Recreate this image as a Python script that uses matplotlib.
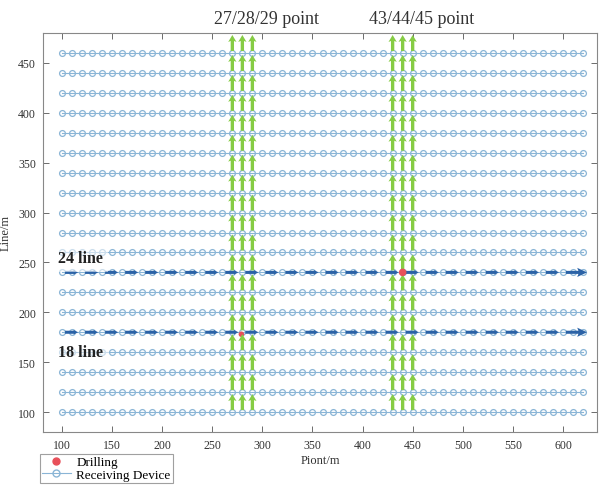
import numpy as np
import matplotlib
matplotlib.use("Agg")
import matplotlib.pyplot as plt
from matplotlib.lines import Line2D

plt.rcParams['font.family'] = ['Liberation Serif', 'DejaVu Serif']

# ---- data ----
points = list(range(100, 621, 10))          # receiving points along each line (m)
lines = list(range(100, 461, 20))           # survey lines (m)
green_x_group1 = [270, 280, 290]            # 27/28/29 point
green_x_group2 = [430, 440, 450]            # 43/44/45 point
blue_lines = [240, 180]                     # 24 line, 18 line
blue_labels = ["24 line", "18 line"]
drill_x = [440, 279]
drill_y = [240, 178]
xticks = [100, 150, 200, 250, 300, 350, 400, 450, 500, 550, 600]
yticks = [100, 150, 200, 250, 300, 350, 400, 450]
top_labels = ["27/28/29 point", "43/44/45 point"]

light_blue = '#8ab5d6'
dark_blue = '#2b62a6'
green = '#86cc44'
red = '#e8505a'

fig = plt.figure(figsize=(6.01, 4.89), dpi=100)
ax = fig.add_axes([43/601, 1-433/489, (597-43)/601, (433-34)/489])

# receiving devices
for ly in lines:
    ax.plot(points, [ly]*len(points), '-', color=light_blue, lw=0.8,
            marker='o', ms=4.2, mfc='none', mec=light_blue, mew=0.9, zorder=2)

# drilling points
ax.scatter(drill_x[:1], drill_y[:1], s=30, color=red, zorder=6, edgecolors='none')
ax.scatter(drill_x[1:], drill_y[1:], s=16, color=red, zorder=3, edgecolors='none')

# green upward arrows
gx = []
gy = []
for x in green_x_group1 + green_x_group2:
    for ly in lines:
        gx.append(x)
        gy.append(ly + 2)
gx = np.array(gx); gy = np.array(gy)
ax.quiver(gx, gy, np.zeros_like(gx), np.full(gy.shape, 16.0),
          angles='xy', scale_units='xy', scale=1, color=green,
          width=0.006, headwidth=2.5, headlength=2.1, headaxislength=1.8,
          zorder=4)

# blue rightward arrows along 24 and 18 lines
bx_start = np.array(points[:-1:2]) + 3
for ly in blue_lines:
    n = len(bx_start)
    ax.quiver(bx_start[:-1], np.full(n-1, ly), np.full(n-1, 13.0), np.zeros(n-1),
              angles='xy', scale_units='xy', scale=1, color=dark_blue,
              width=0.0055, headwidth=1.6, headlength=1.5, headaxislength=1.4,
              zorder=5)
    ax.quiver([bx_start[-1]], [ly], [21.0], [0.0],
              angles='xy', scale_units='xy', scale=1, color=dark_blue,
              width=0.0055, headwidth=3.0, headlength=3.2, headaxislength=2.8,
              zorder=5)

# line labels with faint white background
ax.text(96, 254, blue_labels[0], fontsize=11.5, fontweight='bold', color='#222222',
        ha='left', va='center', zorder=7,
        bbox=dict(boxstyle='square,pad=0.35', fc='white', ec='none', alpha=0.55))
ax.text(96, 160, blue_labels[1], fontsize=11.5, fontweight='bold', color='#222222',
        ha='left', va='center', zorder=7,
        bbox=dict(boxstyle='square,pad=0.35', fc='white', ec='none', alpha=0.55))

ax.set_xlim(81, 634)
ax.set_ylim(80, 480)
ax.set_xticks(xticks)
ax.set_yticks(yticks)
ax.tick_params(direction='in', top=True, right=True, length=4, width=0.6,
               color='#555555', labelsize=8.5, labelcolor='#333333', pad=5)
for s in ax.spines.values():
    s.set_color('#888888')
    s.set_linewidth(0.8)

ax.set_xlabel("Piont/m", fontsize=9, color='#333333', labelpad=2)
ax.set_ylabel("Line/m", fontsize=9, color='#333333')
ax.yaxis.set_label_coords(-31/554, 0.5)

# top annotations
fig.text(266/601, 1-20/489, top_labels[0], fontsize=13, color='#333333', ha='center', va='center')
fig.text(422/601, 1-20/489, top_labels[1], fontsize=13, color='#333333', ha='center', va='center')

# legend
handles = [Line2D([], [], ls='none', marker='o', ms=5, color=red, mec=red),
           Line2D([], [], ls='-', color=light_blue, lw=0.8, marker='o', ms=5,
                  mfc='none', mec=light_blue)]
leg = fig.legend(handles, ["Drilling", "Receiving Device"], loc='upper left',
                 bbox_to_anchor=(40/601, 1-455/489), fontsize=9.5, frameon=True,
                 fancybox=False, edgecolor='#888888', borderpad=0.15,
                 borderaxespad=0.0, handlelength=2.2, handletextpad=0.4,
                 labelspacing=0.05)
leg.get_frame().set_linewidth(0.8)

fig.savefig("out.png", dpi=100)
